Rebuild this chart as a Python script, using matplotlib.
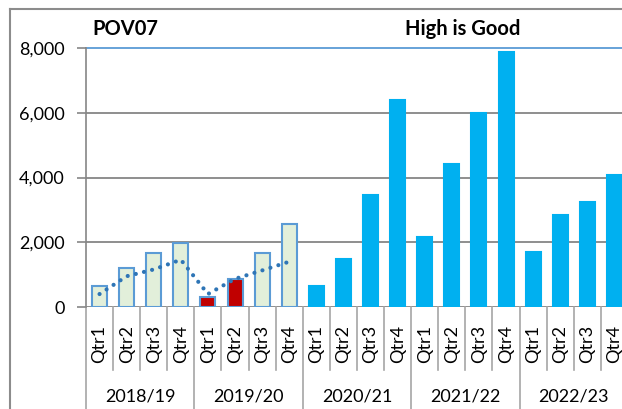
import matplotlib.pyplot as plt
import matplotlib.transforms as mtransforms
from matplotlib.lines import Line2D

plt.rcParams['font.family'] = ['Lato', 'DejaVu Sans']

# data
years = ['2018/19', '2019/20', '2020/21', '2021/22', '2022/23']
quarters = ['Qtr1', 'Qtr2', 'Qtr3', 'Qtr4']
values = [650, 1200, 1670, 1990,
          300, 850, 1660, 2550,
          650, 1480, 3450, 6380,
          2150, 4420, 6000, 7870,
          1700, 2840, 3250, 4080]
trend = [400, 950, 1160, 1460, 400, 870, 1130, 1400]
colours = (['#E2EFDA'] * 4 + ['#C00000'] * 2 + ['#E2EFDA'] * 2 + ['#00B0F0'] * 12)
edges = (['#5B9BD5'] * 8 + ['#00B0F0'] * 12)

W, H = 622, 409
fig = plt.figure(figsize=(W / 100, H / 100), dpi=100)
ax = fig.add_axes([86 / W, (H - 307) / H, 542 / W, 259 / H])

x = list(range(len(values)))
ax.bar(x, values, width=0.55, color=colours, edgecolor=edges, linewidth=1.5, zorder=3)
ax.plot(range(len(trend)), trend, color='#2E75B6', lw=3.0,
        linestyle=(0, (0.01, 2.0)), dash_capstyle='round', zorder=4)

ax.set_xlim(-0.5, len(values) - 0.5)
ax.set_ylim(0, 8000)
ax.set_yticks(range(0, 8001, 2000))
ax.set_yticklabels(['{:,}'.format(v) for v in range(0, 8001, 2000)])
ax.tick_params(axis='y', length=6.5, width=1.2, color='#868686', labelsize=13, pad=9)
ax.set_xticks([])
for s in ['top', 'right', 'bottom']:
    ax.spines[s].set_visible(False)
ax.spines['left'].set_color('#868686')
ax.spines['left'].set_linewidth(1.2)

for v in [0, 2000, 4000, 6000]:
    ax.axhline(v, color='#868686', lw=1.3, zorder=1)
ax.axhline(8000, color='#5B9BD5', lw=1.3, zorder=1, clip_on=False)

# multi-level category axis
trans = mtransforms.blended_transform_factory(ax.transData, ax.transAxes)
for i in x:
    ax.text(i, -0.069, quarters[i % 4], rotation=90, ha='center', va='top',
            fontsize=13, transform=trans, clip_on=False)
    if i % 4 != 3:
        ax.plot([i + 0.5, i + 0.5], [0, -0.243], color='#A6A6A6', lw=1.2,
                transform=trans, clip_on=False)
for g, yr in enumerate(years):
    ax.text(4 * g + 1.5, -0.347, yr, ha='center', va='center', fontsize=13,
            transform=trans, clip_on=False)
    ax.plot([4 * g - 0.5, 4 * g - 0.5], [0, -0.5], color='#A6A6A6', lw=1.2,
            transform=trans, clip_on=False)
ax.plot([len(values) - 0.5] * 2, [0, -0.5], color='#A6A6A6', lw=1.2,
        transform=trans, clip_on=False)

# titles
fig.text(92 / W, 1 - 29 / H, 'POV07', fontsize=14.5, fontweight='bold', va='center')
fig.text(463 / W, 1 - 29 / H, 'High is Good', fontsize=14.5, fontweight='bold',
         va='center', ha='center')

# chart area border (cropped)
fig.add_artist(Line2D([10 / W, 10 / W], [0, 1 - 9 / H], color='#8C8C8C', lw=1.5))
fig.add_artist(Line2D([10 / W, 1], [1 - 9 / H, 1 - 9 / H], color='#8C8C8C', lw=1.5))

fig.savefig('out.png', dpi=100)
